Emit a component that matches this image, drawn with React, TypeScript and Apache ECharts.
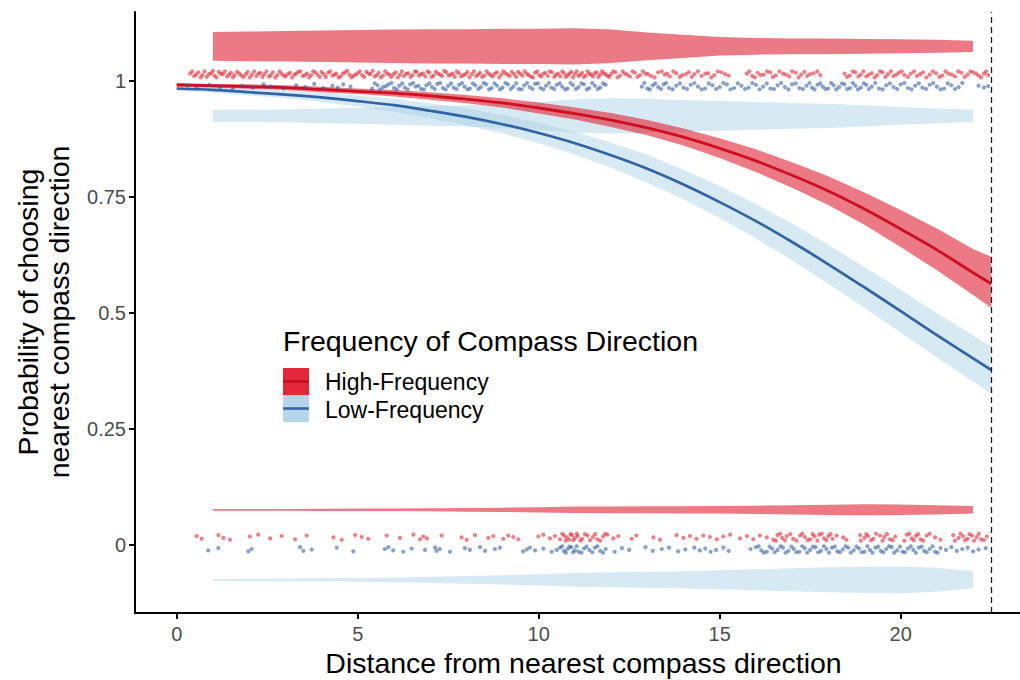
import React, { useEffect, useRef } from "react";
import * as echarts from "echarts";

// ---------- data ----------
const curveX = [0, 1, 2, 3, 4, 5, 6, 7, 8, 9, 10, 11, 12, 13, 14, 15, 16, 17, 18, 19, 20, 21, 22, 22.5];
const highLine = [0.992, 0.99, 0.988, 0.986, 0.982, 0.978, 0.974, 0.968, 0.961, 0.953, 0.942, 0.93, 0.916, 0.899, 0.879, 0.855, 0.828, 0.797, 0.763, 0.724, 0.681, 0.636, 0.587, 0.563];
const highUpper = [0.996, 0.994, 0.993, 0.991, 0.988, 0.984, 0.981, 0.976, 0.97, 0.963, 0.954, 0.943, 0.931, 0.916, 0.898, 0.877, 0.853, 0.825, 0.795, 0.76, 0.722, 0.682, 0.638, 0.621];
const highLower = [0.988, 0.986, 0.983, 0.981, 0.976, 0.972, 0.967, 0.96, 0.952, 0.943, 0.93, 0.917, 0.901, 0.883, 0.861, 0.834, 0.804, 0.77, 0.733, 0.69, 0.642, 0.592, 0.539, 0.511];
const lowLine = [0.984, 0.981, 0.976, 0.971, 0.965, 0.957, 0.948, 0.936, 0.923, 0.907, 0.888, 0.866, 0.84, 0.811, 0.777, 0.739, 0.698, 0.653, 0.605, 0.555, 0.504, 0.452, 0.402, 0.377];
const lowUpper = [0.989, 0.987, 0.983, 0.979, 0.975, 0.969, 0.962, 0.952, 0.941, 0.927, 0.91, 0.891, 0.867, 0.841, 0.809, 0.774, 0.735, 0.693, 0.647, 0.599, 0.55, 0.5, 0.452, 0.428];
const lowLower = [0.979, 0.975, 0.969, 0.963, 0.955, 0.945, 0.934, 0.92, 0.905, 0.887, 0.866, 0.841, 0.813, 0.781, 0.745, 0.704, 0.661, 0.613, 0.563, 0.511, 0.458, 0.404, 0.352, 0.326];

const violinX = [1, 2, 3, 4, 5, 6, 7, 8, 9, 10, 11, 12, 13, 14, 15, 16, 17, 18, 19, 20, 21, 22];
const highTopCenter = 1.075;
const highTopHalf = [0.031, 0.032, 0.033, 0.034, 0.035, 0.036, 0.037, 0.037, 0.038, 0.038, 0.039, 0.036, 0.03, 0.025, 0.02, 0.018, 0.017, 0.017, 0.016, 0.015, 0.014, 0.012];
const lowTopCenter = 0.925;
const lowTopHalf = [0.013, 0.013, 0.014, 0.016, 0.017, 0.019, 0.021, 0.023, 0.026, 0.03, 0.036, 0.038, 0.037, 0.034, 0.032, 0.03, 0.028, 0.026, 0.023, 0.019, 0.016, 0.013];
const highBottomCenter = 0.0755;
const highBottomHalf = [0.002, 0.002, 0.002, 0.0024, 0.0026, 0.0028, 0.0032, 0.0039, 0.0047, 0.0058, 0.0069, 0.0073, 0.0075, 0.0078, 0.0082, 0.009, 0.0099, 0.0112, 0.0119, 0.0114, 0.0099, 0.0082];
const lowBottomCenter = -0.0755;
const lowBottomHalf = [0.002, 0.0024, 0.0028, 0.0032, 0.0039, 0.005, 0.0065, 0.0082, 0.0101, 0.0123, 0.0147, 0.0162, 0.0172, 0.0185, 0.0205, 0.0226, 0.0248, 0.0269, 0.0284, 0.0287, 0.0259, 0.0183];

const highTopPts = [
  [0.37, 1.016], [0.48, 1.011], [0.6, 1.019], [0.71, 1.013], [0.83, 1.009], [0.95, 1.017], [1.04, 1.012], [1.16, 1.02], [1.27, 1.015], [1.39, 1.01], [1.5, 1.018], [1.6, 1.013], [1.73, 1.016], [1.85, 1.009], [1.96, 1.02], [2.08, 1.014], [2.2, 1.011], [2.31, 1.018], [2.42, 1.015], [2.55, 1.01], [2.66, 1.019], [2.78, 1.013], [2.9, 1.016], [3.01, 1.01], [3.13, 1.018], [3.25, 1.014], [3.36, 1.02], [3.48, 1.011], [3.6, 1.016], [3.71, 1.013], [3.83, 1.019], [3.95, 1.009], [4.06, 1.015], [4.18, 1.018], [4.3, 1.012], [4.41, 1.016], [4.53, 1.01], [4.65, 1.019], [4.77, 1.014], [4.88, 1.011], [5.0, 1.017], [5.12, 1.013], [5.24, 1.02], [5.35, 1.015], [5.47, 1.01], [5.58, 1.018], [5.7, 1.012], [5.82, 1.016], [5.93, 1.009], [6.05, 1.019], [6.17, 1.014], [6.28, 1.011], [6.4, 1.017], [6.52, 1.013], [6.63, 1.02], [6.75, 1.015], [6.87, 1.01], [6.98, 1.018], [7.1, 1.012], [7.22, 1.016], [7.33, 1.011], [7.45, 1.019], [7.57, 1.014], [7.68, 1.009], [7.8, 1.017], [7.92, 1.013], [8.03, 1.02], [8.15, 1.015], [8.27, 1.011], [8.38, 1.018], [8.5, 1.012], [8.62, 1.016], [8.73, 1.01], [8.85, 1.019], [8.97, 1.014], [9.08, 1.017], [9.2, 1.011], [9.32, 1.015], [9.43, 1.02], [9.55, 1.012], [9.67, 1.016], [9.78, 1.01], [9.9, 1.018], [10.02, 1.013], [10.13, 1.016], [10.25, 1.011], [10.37, 1.019], [10.48, 1.014], [10.6, 1.01], [10.7, 1.017], [10.8, 1.013], [10.9, 1.02], [11.0, 1.015], [11.1, 1.011], [11.2, 1.018], [11.3, 1.012], [11.4, 1.016], [11.5, 1.01], [11.6, 1.019], [11.7, 1.014], [11.8, 1.017], [11.9, 1.011], [12.0, 1.015], [12.12, 1.019], [12.25, 1.012], [12.38, 1.016], [12.52, 1.01], [12.66, 1.018], [12.8, 1.013], [12.95, 1.016], [13.1, 1.011], [13.3, 1.019], [13.48, 1.014], [13.62, 1.01], [13.8, 1.017], [13.97, 1.013], [14.15, 1.019], [14.3, 1.015], [14.5, 1.011], [14.68, 1.017], [14.85, 1.013], [15.05, 1.019], [15.25, 1.012], [15.75, 1.016], [15.9, 1.011], [16.05, 1.018], [16.22, 1.014], [16.4, 1.019], [16.55, 1.012], [16.75, 1.016], [16.92, 1.01], [17.1, 1.018], [17.25, 1.014], [17.42, 1.011], [17.6, 1.017], [17.78, 1.013], [18.45, 1.016], [18.6, 1.012], [18.75, 1.019], [18.9, 1.014], [19.05, 1.01], [19.2, 1.017], [19.35, 1.013], [19.5, 1.019], [19.65, 1.015], [19.8, 1.011], [19.95, 1.018], [20.1, 1.013], [20.28, 1.016], [20.45, 1.011], [20.62, 1.019], [20.8, 1.014], [20.98, 1.017], [21.15, 1.012], [21.32, 1.016], [21.5, 1.01], [21.68, 1.018], [21.85, 1.014], [22.0, 1.019], [22.15, 1.012], [22.3, 1.016], [22.42, 1.013],
  [0.43, 1.021], [0.54, 1.014], [0.66, 1.008], [0.77, 1.021], [0.89, 1.015], [1.0, 1.022], [1.1, 1.008], [1.22, 1.016], [1.33, 1.021], [1.45, 1.014], [1.55, 1.008], [1.67, 1.02], [1.79, 1.012], [1.91, 1.015], [2.02, 1.008], [2.14, 1.021], [2.26, 1.016], [2.37, 1.009], [2.48, 1.021], [2.6, 1.013], [2.72, 1.008], [2.84, 1.021], [2.96, 1.012], [3.07, 1.015], [3.19, 1.008], [3.3, 1.016], [3.42, 1.021], [3.54, 1.013], [3.66, 1.008], [3.77, 1.021], [3.89, 1.014], [4.0, 1.02], [4.12, 1.009], [4.24, 1.021], [4.36, 1.014], [4.47, 1.008], [4.59, 1.016], [4.71, 1.022], [4.83, 1.008], [4.94, 1.014], [5.06, 1.021], [5.18, 1.009], [5.3, 1.016], [5.41, 1.022], [5.53, 1.013], [5.64, 1.008], [5.76, 1.021], [5.88, 1.014], [5.99, 1.015], [6.11, 1.008], [6.22, 1.021], [6.34, 1.016], [6.46, 1.009], [6.58, 1.021], [6.69, 1.012], [6.81, 1.016], [6.93, 1.021], [7.04, 1.009], [7.16, 1.02], [7.28, 1.014], [7.39, 1.022], [7.51, 1.012], [7.63, 1.016], [7.74, 1.021], [7.86, 1.01], [7.98, 1.015], [8.09, 1.008], [8.21, 1.021], [8.33, 1.014], [8.44, 1.009], [8.56, 1.021], [8.68, 1.013], [8.79, 1.016], [8.91, 1.008], [9.02, 1.021], [9.14, 1.014], [9.26, 1.02], [9.38, 1.009], [9.49, 1.016], [9.61, 1.021], [9.72, 1.013], [9.84, 1.008], [9.96, 1.021], [10.07, 1.01], [10.19, 1.018], [10.31, 1.021], [10.43, 1.009], [10.54, 1.016], [10.65, 1.021], [10.75, 1.009], [10.85, 1.016], [10.95, 1.008], [11.05, 1.021], [11.15, 1.014], [11.25, 1.009], [11.35, 1.021], [11.45, 1.014], [11.55, 1.017], [11.65, 1.009], [11.75, 1.021], [11.85, 1.015], [11.95, 1.009], [12.06, 1.021], [12.18, 1.008], [12.32, 1.021], [12.45, 1.014], [12.59, 1.021], [12.73, 1.009], [12.88, 1.021], [13.02, 1.015], [13.2, 1.008], [13.4, 1.021], [13.55, 1.016], [13.72, 1.021], [13.9, 1.009], [14.07, 1.015], [14.23, 1.009], [14.4, 1.021], [14.6, 1.016], [14.77, 1.008], [14.95, 1.021], [15.15, 1.015], [15.82, 1.021], [15.97, 1.008], [16.13, 1.013], [16.31, 1.021], [16.47, 1.009], [16.65, 1.021], [16.83, 1.014], [17.0, 1.021], [17.18, 1.008], [17.34, 1.02], [17.5, 1.015], [17.7, 1.021], [18.52, 1.009], [18.68, 1.021], [18.83, 1.01], [18.97, 1.021], [19.12, 1.014], [19.28, 1.008], [19.43, 1.021], [19.58, 1.009], [19.73, 1.021], [19.88, 1.014], [20.03, 1.021], [20.2, 1.009], [20.37, 1.021], [20.54, 1.015], [20.71, 1.008], [20.89, 1.021], [21.07, 1.009], [21.24, 1.021], [21.41, 1.014], [21.59, 1.021], [21.77, 1.009], [21.93, 1.021], [22.08, 1.016], [22.22, 1.008], [22.36, 1.021],
];
const lowTopPts = [
  [0.3, 0.99], [0.55, 0.985], [0.9, 0.992], [1.2, 0.987], [1.55, 0.983], [1.8, 0.99], [2.1, 0.986], [2.4, 0.993], [2.6, 0.988], [2.95, 0.984], [3.3, 0.991], [3.55, 0.987], [3.8, 0.994], [4.05, 0.985], [4.3, 0.99], [4.45, 0.986], [4.6, 0.993], [4.8, 0.988], [5.4, 0.984], [5.55, 0.991], [5.7, 0.987], [5.85, 0.993], [6.0, 0.985], [6.15, 0.99], [6.3, 0.986], [6.45, 0.993], [6.6, 0.988], [6.75, 0.983], [6.9, 0.991], [7.05, 0.987], [7.2, 0.994], [7.35, 0.985], [7.5, 0.99], [7.65, 0.986], [7.8, 0.992], [7.95, 0.988], [8.1, 0.984], [8.25, 0.991], [8.4, 0.987], [8.55, 0.993], [8.7, 0.985], [8.85, 0.99], [9.0, 0.986], [9.15, 0.993], [9.3, 0.988], [9.45, 0.983], [9.6, 0.991], [9.75, 0.987], [9.9, 0.994], [10.05, 0.985], [10.2, 0.99], [10.35, 0.986], [10.5, 0.992], [10.65, 0.988], [10.8, 0.984], [10.95, 0.991], [11.1, 0.987], [11.25, 0.993], [11.4, 0.985], [11.55, 0.99], [11.7, 0.986], [11.85, 0.992], [12.85, 0.988], [13.0, 0.984], [13.15, 0.991], [13.3, 0.987], [13.45, 0.993], [13.6, 0.985], [13.8, 0.99], [14.0, 0.986], [14.2, 0.992], [14.4, 0.988], [14.6, 0.984], [14.8, 0.991], [15.0, 0.987], [15.2, 0.993], [15.4, 0.985], [15.6, 0.99], [15.8, 0.986], [16.0, 0.992], [16.2, 0.988], [16.4, 0.984], [16.6, 0.991], [16.8, 0.987], [17.0, 0.993], [17.2, 0.985], [17.4, 0.99], [17.55, 0.986], [17.7, 0.992], [17.85, 0.988], [18.0, 0.984], [18.15, 0.991], [18.3, 0.987], [18.45, 0.993], [18.6, 0.985], [18.75, 0.99], [18.9, 0.986], [19.05, 0.992], [19.2, 0.988], [19.4, 0.984], [19.6, 0.991], [19.8, 0.987], [20.0, 0.993], [20.2, 0.985], [20.4, 0.99], [20.6, 0.986], [20.8, 0.992], [21.0, 0.988], [21.2, 0.984], [21.4, 0.991], [21.6, 0.987], [22.15, 0.99], [22.3, 0.986], [22.42, 0.989],
  [5.47, 0.995], [5.62, 0.982], [5.78, 0.989], [5.93, 0.996], [6.08, 0.982], [6.23, 0.995], [6.38, 0.982], [6.53, 0.996], [6.68, 0.99], [6.83, 0.982], [6.98, 0.995], [7.13, 0.983], [7.28, 0.996], [7.43, 0.982], [7.58, 0.995], [7.73, 0.983], [7.88, 0.996], [8.03, 0.982], [8.18, 0.995], [8.33, 0.983], [8.48, 0.996], [8.63, 0.982], [8.78, 0.995], [8.93, 0.982], [9.08, 0.996], [9.23, 0.983], [9.38, 0.995], [9.53, 0.982], [9.68, 0.996], [9.83, 0.983], [9.98, 0.995], [10.13, 0.982], [10.28, 0.996], [10.43, 0.983], [10.58, 0.995], [10.73, 0.982], [10.88, 0.996], [11.03, 0.983], [11.18, 0.995], [11.33, 0.982], [11.48, 0.996], [11.63, 0.983], [11.78, 0.995], [12.92, 0.996], [13.07, 0.982], [13.22, 0.995], [13.38, 0.983], [13.52, 0.996], [13.7, 0.982], [13.9, 0.995], [14.1, 0.983], [14.3, 0.996], [14.5, 0.982], [14.7, 0.995], [14.9, 0.983], [15.1, 0.996], [15.3, 0.982], [15.5, 0.995], [15.7, 0.983], [15.9, 0.996], [16.1, 0.982], [16.3, 0.995], [16.5, 0.983], [16.7, 0.996], [16.9, 0.982], [17.1, 0.995], [17.3, 0.983], [17.48, 0.996], [17.62, 0.982], [17.78, 0.995], [17.92, 0.983], [18.08, 0.996], [18.22, 0.982], [18.38, 0.995], [18.52, 0.983], [18.68, 0.996], [18.82, 0.982], [18.98, 0.995], [19.12, 0.983], [19.3, 0.996], [19.5, 0.982], [19.7, 0.995], [19.9, 0.983], [20.1, 0.996], [20.3, 0.982], [20.5, 0.995], [20.7, 0.983], [20.9, 0.996], [21.1, 0.982], [21.3, 0.995], [21.5, 0.983], [21.7, 0.996],
];
const highBottomPts = [
  [0.55, 0.019], [0.69, 0.013], [1.15, 0.021], [1.29, 0.015], [1.47, 0.011], [2.02, 0.018], [2.25, 0.022], [2.58, 0.014], [2.9, 0.019], [3.27, 0.012], [3.59, 0.02], [4.33, 0.016], [4.56, 0.011], [4.93, 0.021], [5.11, 0.017], [5.29, 0.013], [5.8, 0.02], [6.17, 0.015], [6.54, 0.022], [6.72, 0.012], [6.81, 0.018], [6.91, 0.014], [7.32, 0.02], [7.87, 0.016], [8.01, 0.011], [8.24, 0.021], [8.61, 0.015], [8.75, 0.019], [9.02, 0.013], [9.16, 0.02], [9.3, 0.017], [9.44, 0.012], [9.99, 0.018], [10.13, 0.022], [10.31, 0.014], [10.45, 0.019], [10.59, 0.012], [10.7, 0.02], [10.78, 0.016], [10.85, 0.011], [10.92, 0.021], [11.0, 0.015], [11.08, 0.019], [11.2, 0.013], [11.35, 0.02], [11.5, 0.017], [11.62, 0.012], [11.78, 0.018], [11.9, 0.022], [12.06, 0.014], [12.2, 0.019], [12.57, 0.013], [12.7, 0.02], [13.17, 0.016], [13.35, 0.011], [13.81, 0.021], [14.0, 0.015], [14.18, 0.019], [14.36, 0.013], [14.55, 0.02], [14.73, 0.017], [14.92, 0.012], [15.1, 0.018], [15.29, 0.022], [15.56, 0.014], [15.75, 0.019], [15.93, 0.012], [16.11, 0.02], [16.3, 0.016], [16.48, 0.011], [16.6, 0.021], [16.72, 0.015], [16.85, 0.019], [17.03, 0.013], [17.22, 0.02], [17.35, 0.017], [17.5, 0.012], [17.62, 0.018], [17.75, 0.022], [17.88, 0.014], [18.0, 0.019], [18.12, 0.013], [18.23, 0.02], [18.41, 0.016], [18.5, 0.011], [18.88, 0.021], [19.0, 0.015], [19.1, 0.019], [19.25, 0.013], [19.43, 0.02], [19.55, 0.017], [19.7, 0.012], [19.85, 0.018], [20.17, 0.022], [20.3, 0.014], [20.42, 0.019], [20.55, 0.012], [20.72, 0.02], [20.95, 0.016], [21.1, 0.011], [21.45, 0.021], [21.6, 0.015], [21.72, 0.019], [21.85, 0.013], [21.97, 0.02], [22.1, 0.017], [22.22, 0.012], [22.38, 0.018],
  [10.65, 0.024], [10.75, 0.009], [10.88, 0.023], [10.96, 0.01], [11.05, 0.024], [11.15, 0.009], [11.28, 0.023], [11.42, 0.01], [11.56, 0.023], [11.7, 0.009], [11.84, 0.024], [16.55, 0.009], [16.67, 0.024], [16.8, 0.01], [16.95, 0.023], [17.12, 0.009], [17.28, 0.024], [17.43, 0.01], [17.57, 0.023], [17.7, 0.009], [17.82, 0.024], [17.95, 0.01], [18.06, 0.023], [18.9, 0.009], [19.05, 0.023], [19.18, 0.01], [19.32, 0.024], [19.5, 0.009], [19.62, 0.023], [19.78, 0.01], [20.1, 0.009], [20.24, 0.024], [20.36, 0.01], [20.48, 0.023], [20.62, 0.009], [20.8, 0.024], [21.5, 0.009], [21.65, 0.024], [21.78, 0.01], [21.9, 0.023], [22.03, 0.009], [22.16, 0.024], [22.3, 0.01],
];
const lowBottomPts = [
  [0.87, -0.012], [1.15, -0.007], [1.98, -0.014], [2.07, -0.009], [3.41, -0.005], [3.5, -0.013], [3.73, -0.01], [4.42, -0.006], [4.88, -0.014], [5.75, -0.009], [5.85, -0.005], [5.98, -0.012], [6.26, -0.015], [6.49, -0.008], [6.86, -0.011], [7.14, -0.006], [7.18, -0.013], [7.27, -0.009], [7.55, -0.015], [7.96, -0.007], [8.1, -0.011], [8.38, -0.005], [8.52, -0.013], [8.79, -0.009], [8.93, -0.006], [9.57, -0.014], [9.67, -0.01], [9.76, -0.006], [9.9, -0.012], [10.13, -0.008], [10.36, -0.015], [10.5, -0.011], [10.59, -0.006], [10.7, -0.013], [10.8, -0.009], [10.9, -0.005], [11.0, -0.012], [11.1, -0.015], [11.25, -0.008], [11.4, -0.011], [11.55, -0.006], [11.7, -0.013], [11.85, -0.009], [12.1, -0.015], [12.3, -0.007], [12.5, -0.011], [12.95, -0.005], [13.15, -0.013], [13.4, -0.009], [13.6, -0.006], [13.85, -0.014], [14.05, -0.01], [14.3, -0.006], [14.45, -0.012], [14.6, -0.008], [14.75, -0.015], [14.9, -0.011], [15.1, -0.006], [15.25, -0.013], [15.85, -0.009], [16.0, -0.005], [16.15, -0.012], [16.3, -0.015], [16.45, -0.008], [16.6, -0.011], [16.75, -0.006], [16.9, -0.013], [17.05, -0.009], [17.2, -0.015], [17.35, -0.007], [17.5, -0.011], [17.65, -0.005], [17.8, -0.013], [17.95, -0.009], [18.1, -0.006], [18.25, -0.014], [18.4, -0.01], [18.55, -0.006], [18.7, -0.012], [18.85, -0.008], [19.0, -0.015], [19.15, -0.011], [19.3, -0.006], [19.45, -0.013], [19.6, -0.009], [19.75, -0.005], [19.9, -0.012], [20.05, -0.015], [20.2, -0.008], [20.35, -0.011], [20.5, -0.006], [20.65, -0.013], [20.8, -0.009], [20.95, -0.015], [21.1, -0.007], [21.25, -0.011], [21.4, -0.005], [21.55, -0.013], [21.7, -0.009], [21.85, -0.006], [22.0, -0.014], [22.15, -0.01], [22.35, -0.007],
  [10.65, -0.003], [10.75, -0.017], [10.85, -0.004], [10.95, -0.016], [11.05, -0.003], [11.18, -0.017], [11.32, -0.004], [11.48, -0.016], [11.62, -0.003], [11.78, -0.017], [16.08, -0.003], [16.22, -0.017], [16.38, -0.004], [16.52, -0.016], [16.68, -0.003], [16.82, -0.017], [16.98, -0.004], [17.12, -0.016], [17.28, -0.003], [17.42, -0.017], [17.58, -0.004], [17.72, -0.016], [17.88, -0.003], [18.02, -0.017], [18.18, -0.004], [18.32, -0.016], [18.48, -0.003], [18.62, -0.017], [18.78, -0.004], [18.92, -0.016], [19.08, -0.003], [19.22, -0.017], [19.38, -0.004], [19.52, -0.016], [19.68, -0.003], [19.82, -0.017], [19.98, -0.004], [20.12, -0.016], [20.28, -0.003], [20.42, -0.017], [20.58, -0.004], [20.72, -0.016], [20.88, -0.003], [21.02, -0.017],
];

const xTicks = [0, 5, 10, 15, 20];
const yTicks = [0, 0.25, 0.5, 0.75, 1];
const cutoffX = 22.5;
const seriesNames = ["High-Frequency", "Low-Frequency"];
const legendTitle = "Frequency of Compass Direction";
const xTitle = "Distance from nearest compass direction";
const yTitleLines = ["Probability of choosing", "nearest compass direction"];

// ---------- styles ----------
const FONT = '"Liberation Sans", Arial, Helvetica, sans-serif';
const RED_LINE = "#cf0e1f";
const BLUE_LINE = "#2f64a6";
const RED_FILL = "rgba(223,33,52,0.6)";
const BLUE_FILL = "rgba(166,206,227,0.45)";
const RED_PT = "rgba(222,28,44,0.7)";
const BLUE_PT = "rgba(40,90,160,0.7)";

function polySeries(xs: number[], lo: number[], hi: number[], fill: string, z: number) {
  return {
    type: "custom",
    coordinateSystem: "cartesian2d",
    silent: true,
    z,
    encode: { x: 0, y: [1, 2] },
    data: xs.map((x, i) => [x, lo[i], hi[i]]),
    renderItem: (params: any, api: any) => {
      if (params.dataIndex !== 0) return null;
      const top = xs.map((x, i) => api.coord([x, hi[i]]));
      const bot = xs.map((x, i) => api.coord([x, lo[i]])).reverse();
      return { type: "polygon", shape: { points: top.concat(bot) }, style: { fill } };
    },
  };
}

function violin(center: number, half: number[], fill: string) {
  return polySeries(
    violinX,
    half.map((h) => center - h),
    half.map((h) => center + h),
    fill,
    1
  );
}

function scatter(pts: number[][], color: string) {
  return {
    type: "scatter",
    data: pts,
    symbol: "circle",
    symbolSize: 4.2,
    itemStyle: { color },
    silent: true,
    z: 5,
  };
}

export default function App() {
  const ref = useRef<HTMLDivElement>(null);
  useEffect(() => {
    const chart = echarts.init(ref.current!, null, { renderer: "svg" });
    const option: any = {
      animation: false,
      backgroundColor: "#ffffff",
      grid: { left: 135, right: 0, top: 12, bottom: 67, containLabel: false },
      xAxis: {
        type: "value",
        min: -1.152,
        max: 23.296,
        axisLine: { show: true, onZero: false, lineStyle: { color: "#000", width: 2 } },
        axisTick: { show: true, customValues: xTicks, length: 6, lineStyle: { color: "#000", width: 2 } },
        axisLabel: { customValues: xTicks, fontSize: 20, color: "#4d4d4d", margin: 11, fontFamily: FONT },
        splitLine: { show: false },
      },
      yAxis: {
        type: "value",
        min: -0.147,
        max: 1.149,
        axisLine: { show: true, onZero: false, lineStyle: { color: "#000", width: 2 } },
        axisTick: { show: true, customValues: yTicks, length: 6, lineStyle: { color: "#000", width: 2 } },
        axisLabel: { customValues: yTicks, fontSize: 20, color: "#4d4d4d", margin: 9, fontFamily: FONT },
        splitLine: { show: false },
      },
      series: [
        violin(highTopCenter, highTopHalf, RED_FILL),
        violin(lowTopCenter, lowTopHalf, BLUE_FILL),
        violin(highBottomCenter, highBottomHalf, RED_FILL),
        violin(lowBottomCenter, lowBottomHalf, BLUE_FILL),
        polySeries(curveX, lowLower, lowUpper, BLUE_FILL, 2),
        polySeries(curveX, highLower, highUpper, RED_FILL, 2),
        {
          type: "line",
          name: seriesNames[1],
          data: curveX.map((x, i) => [x, lowLine[i]]),
          symbol: "none",
          smooth: 0.3,
          lineStyle: { color: BLUE_LINE, width: 2.7 },
          silent: true,
          z: 3,
        },
        {
          type: "line",
          name: seriesNames[0],
          data: curveX.map((x, i) => [x, highLine[i]]),
          symbol: "none",
          smooth: 0.3,
          lineStyle: { color: RED_LINE, width: 2.8 },
          silent: true,
          z: 3,
          markLine: {
            silent: true,
            symbol: ["none", "none"],
            label: { show: false },
            lineStyle: { color: "#1a1a1a", width: 1.3, type: [6, 4] },
            data: [{ xAxis: cutoffX }],
          },
        },
        scatter(highTopPts, RED_PT),
        scatter(lowTopPts, BLUE_PT),
        scatter(highBottomPts, RED_PT),
        scatter(lowBottomPts, BLUE_PT),
      ],
      graphic: [
        {
          type: "text",
          x: 583.5,
          y: 663,
          style: { text: xTitle, fontSize: 28.5, fontFamily: FONT, fill: "#000", align: "center", verticalAlign: "middle" },
        },
        {
          type: "text",
          x: 28,
          y: 312,
          rotation: Math.PI / 2,
          style: { text: yTitleLines[0], fontSize: 28.5, fontFamily: FONT, fill: "#000", align: "center", verticalAlign: "middle" },
        },
        {
          type: "text",
          x: 59,
          y: 312,
          rotation: Math.PI / 2,
          style: { text: yTitleLines[1], fontSize: 28.5, fontFamily: FONT, fill: "#000", align: "center", verticalAlign: "middle" },
        },
        {
          type: "text",
          x: 283,
          y: 341,
          style: { text: legendTitle, fontSize: 28.5, fontFamily: FONT, fill: "#000", align: "left", verticalAlign: "middle" },
        },
        { type: "rect", shape: { x: 283, y: 368, width: 26, height: 27 }, style: { fill: "#e3283a" } },
        { type: "line", shape: { x1: 283, y1: 381.5, x2: 309, y2: 381.5 }, style: { stroke: "#c40c1e", lineWidth: 2.6 } },
        { type: "rect", shape: { x: 283, y: 395, width: 26, height: 27 }, style: { fill: "#b5d5ea" } },
        { type: "line", shape: { x1: 283, y1: 408.5, x2: 309, y2: 408.5 }, style: { stroke: "#3467ab", lineWidth: 2.6 } },
        {
          type: "text",
          x: 325,
          y: 382,
          style: { text: seriesNames[0], fontSize: 23, fontFamily: FONT, fill: "#000", align: "left", verticalAlign: "middle" },
        },
        {
          type: "text",
          x: 325,
          y: 410,
          style: { text: seriesNames[1], fontSize: 23, fontFamily: FONT, fill: "#000", align: "left", verticalAlign: "middle" },
        },
      ],
    };
    chart.setOption(option);
    return () => chart.dispose();
  }, []);
  return (
    <div
      ref={ref}
      style={{ position: "fixed", left: 0, top: 0, width: 1020, height: 680, background: "#fff" }}
    />
  );
}
